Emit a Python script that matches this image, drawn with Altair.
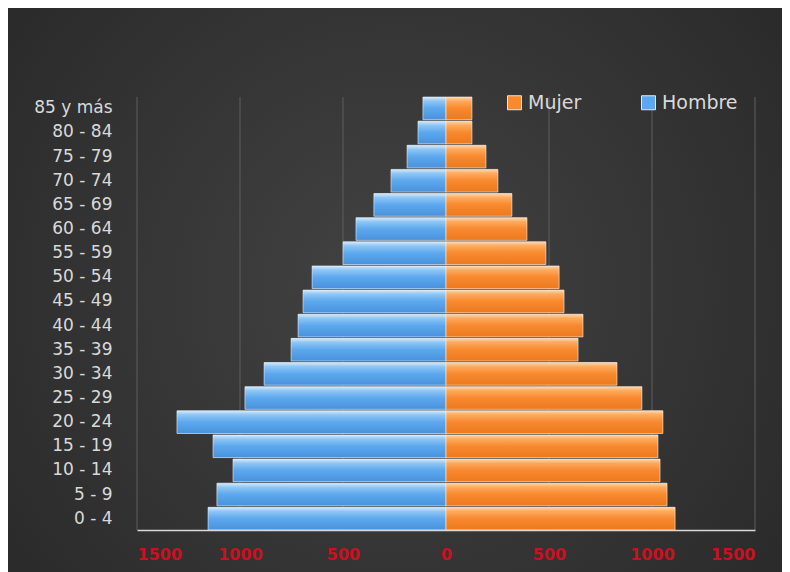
import altair as alt
import pandas as pd

ages = ["0 - 4", "5 - 9", "10 - 14", "15 - 19", "20 - 24", "25 - 29", "30 - 34",
        "35 - 39", "40 - 44", "45 - 49", "50 - 54", "55 - 59", "60 - 64", "65 - 69",
        "70 - 74", "75 - 79", "80 - 84", "85 y más"]
hombre = [1155, 1112, 1034, 1131, 1306, 976, 883, 752, 718, 694, 650, 500, 437, 350, 267, 189, 136, 112]
mujer = [1112, 1073, 1039, 1029, 1053, 951, 830, 641, 665, 573, 549, 485, 393, 320, 252, 194, 126, 126]
ticks = [-1500, -1000, -500, 0, 500, 1000, 1500]
sexos = ["Mujer", "Hombre"]
colores = ["#F8892E", "#5CA8EE"]

rows = []
for a, h, m in zip(ages, hombre, mujer):
    rows.append({"edad": a, "sexo": "Hombre", "valor": -h})
    rows.append({"edad": a, "sexo": "Mujer", "valor": m})
df = pd.DataFrame(rows)
tick_df = pd.DataFrame({"valor": ticks})

W, H = 618, 433
PL, PT, PR, PB = 129, 89, 27, 42
order = ages[::-1]

y_enc = alt.Y("edad:N", sort=order, title=None,
              scale=alt.Scale(paddingInner=0.06, paddingOuter=0.0),
              axis=alt.Axis(domain=False, ticks=False, labelColor="#D9D9D9",
                            labelFontSize=17, labelFont="DejaVu Sans",
                            labelPadding=25, zindex=1))
x_enc = alt.X("valor:Q", title=None,
              scale=alt.Scale(domain=[-1500, 1500], nice=False, zero=False),
              axis=alt.Axis(values=ticks, labelExpr="format(abs(datum.value),'d')",
                            grid=False, domain=True, domainColor="#D9D9D9",
                            domainWidth=1.5, ticks=False, labelColor="#CC1020",
                            labelFontSize=16, labelFont="DejaVu Sans",
                            labelFontWeight="bold", labelPadding=16, zindex=1))

bg_grad = {"gradient": "radial", "x1": 0.5, "y1": 0.5, "r1": 0, "x2": 0.5, "y2": 0.5, "r2": 0.75,
           "stops": [{"offset": 0, "color": "#434343"}, {"offset": 1, "color": "#252525"}]}
blue_grad = {"gradient": "linear", "x1": 0, "y1": 0, "x2": 0, "y2": 1,
             "stops": [{"offset": 0, "color": "#D3EAFD"}, {"offset": 0.18, "color": "#8FC6F4"},
                       {"offset": 0.5, "color": "#5CA8EE"}, {"offset": 1, "color": "#4A92DC"}]}
orange_grad = {"gradient": "linear", "x1": 0, "y1": 0, "x2": 0, "y2": 1,
               "stops": [{"offset": 0, "color": "#FFD6AC"}, {"offset": 0.18, "color": "#FDAA5E"},
                         {"offset": 0.5, "color": "#F8892E"}, {"offset": 1, "color": "#EC7A1F"}]}

bg = alt.Chart(alt.Data(values=[{"a": 1}])).mark_rect(fill=bg_grad).encode(
    x=alt.value(-PL), x2=alt.value(W + PR), y=alt.value(-PT), y2=alt.value(H + PB))

grid = alt.Chart(tick_df).mark_rule(color="#5E5E5E", strokeWidth=1).encode(x=x_enc)

base = alt.Chart(df)
legend_bars = base.mark_bar().encode(
    x=x_enc, y=y_enc,
    color=alt.Color("sexo:N", scale=alt.Scale(domain=sexos, range=colores),
                    legend=alt.Legend(title=None, orient="none", legendX=368, legendY=-4,
                                      direction="horizontal", symbolType="square",
                                      symbolSize=196, symbolStrokeColor="#E6E6E6",
                                      symbolStrokeWidth=1, labelFontSize=19,
                                      labelFont="DejaVu Sans", labelColor="#D9D9D9",
                                      columnPadding=57, labelOffset=4, zindex=1)))
male = base.transform_filter(alt.datum.sexo == "Hombre").mark_bar(
    fill=blue_grad, stroke="#E6EEF6", strokeWidth=0.8, strokeOpacity=0.75).encode(x=x_enc, y=y_enc)
female = base.transform_filter(alt.datum.sexo == "Mujer").mark_bar(
    fill=orange_grad, stroke="#F6EEE6", strokeWidth=0.8, strokeOpacity=0.75).encode(x=x_enc, y=y_enc)

chart = alt.layer(bg, grid, legend_bars, male, female).properties(
    width=W, height=H,
    autosize=alt.AutoSizeParams(type="none"),
    padding={"left": PL, "top": PT, "right": PR, "bottom": PB},
    background="#2B2B2B",
).configure_view(stroke=None)

chart.save("out.html", embed_options={"renderer": "svg", "actions": False})
